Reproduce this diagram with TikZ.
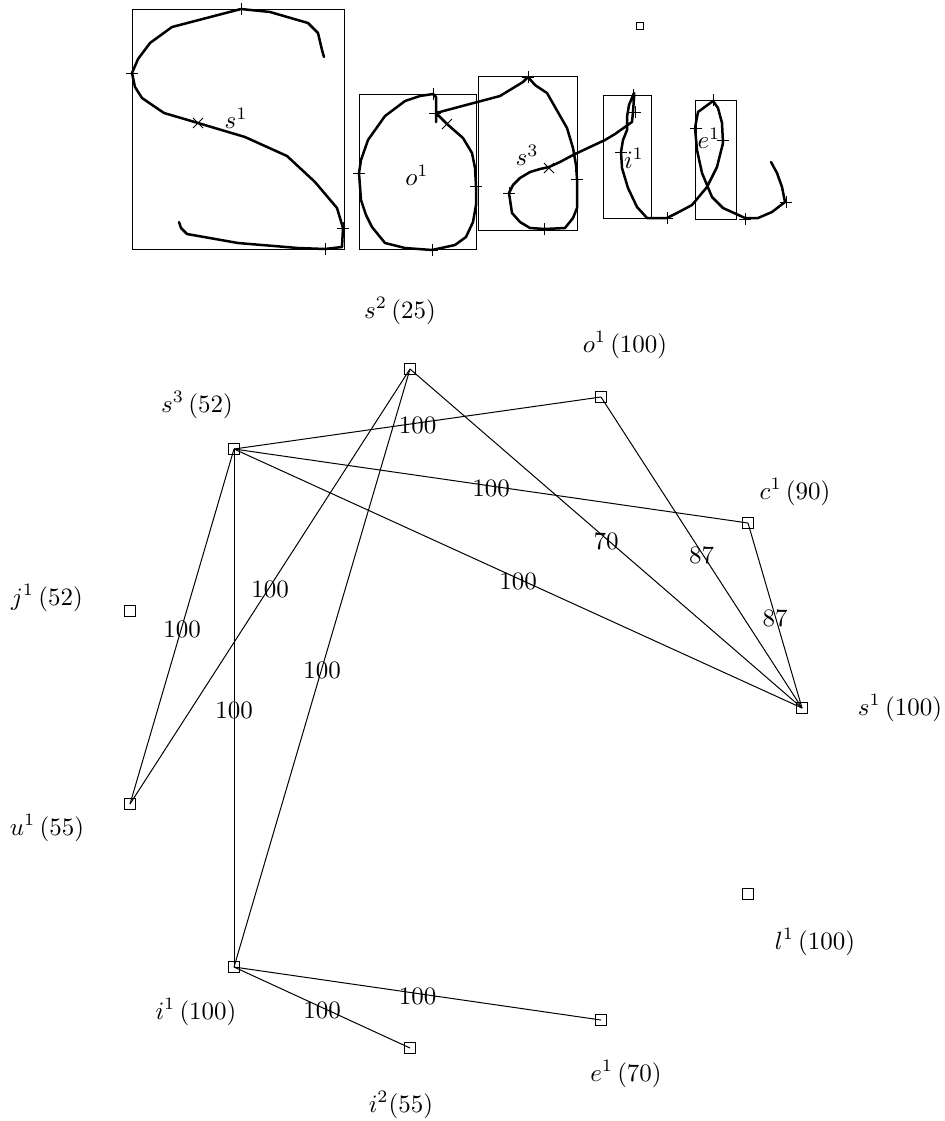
\documentclass[tikz,border=0pt]{standalone}
\begin{document}
\begin{tikzpicture}[x=0.4pt,y=-0.4pt,
  vert/.style={draw,rectangle,minimum size=4.6pt,inner sep=0pt,line width=0.4pt},
  lbl/.style={inner sep=0pt},
  edge/.style={line width=0.4pt},
  wlab/.style={inner sep=0pt},
  pen/.style={line width=1pt,line join=round,line cap=round},
  frame/.style={line width=0.4pt},
  tick/.style={line width=0.4pt}]
\useasboundingbox (0,0) rectangle (945,1121);

% ---------- handwriting ----------
\draw[frame] (132,9) rectangle (344,249);
\draw[frame] (359,94) rectangle (476,249);
\draw[frame] (478,76) rectangle (577,230);
\draw[frame] (603,95) rectangle (651,218);
\draw[frame] (695,100) rectangle (736,219);
\node[draw,rectangle,minimum size=2.6pt,inner sep=0pt,line width=0.4pt] (dot) at (640,26) {};

\draw[pen] (324,57) -- (322,50) -- (318,33) -- (308,23) -- (270,12) -- (241,9) -- (172,27) -- (150,43) -- (138,59) -- (132,73) -- (135,87) -- (142,98) -- (164,113) -- (198,123) -- (245,137) -- (287,156) -- (315,182) -- (337,208) -- (343,228) -- (342,247) -- (325,249) -- (298,248) -- (238,243) -- (187,234) -- (181,228) -- (179,222);

\draw[pen] (436,122) -- (436,113) -- (436,97) -- (433,94) -- (420,96) -- (405,101) -- (385,116) -- (368,140) -- (361,160) -- (359,173) -- (361,200) -- (366,215) -- (372,227) -- (385,243) -- (405,248) -- (432,250) -- (455,245) -- (466,237) -- (473,222) -- (476,205) -- (476,186) -- (475,168) -- (472,153) -- (463,138) -- (447,124) -- (436,113)
  -- (500,96) -- (523,82) -- (528,77) -- (535,85) -- (547,93) -- (555,107) -- (567,128) -- (573,148) -- (576,165) -- (577,179) -- (577,208) -- (573,218) -- (565,228) -- (545,229) -- (530,228) -- (520,222) -- (512,213) -- (509,193) -- (513,185) -- (520,178) -- (530,172) -- (540,169) -- (549,167) -- (560,162) -- (573,155) -- (590,147)
  -- (605,140) -- (615,134) -- (632,122) -- (633,112) -- (634,98) -- (634,93) -- (629,105) -- (627,117) -- (627,130) -- (623,140) -- (621,152) -- (622,168) -- (628,188) -- (637,207) -- (647,218) -- (667,218) -- (677,213) -- (692,205)
  -- (707,187) -- (717,167) -- (723,143) -- (722,123) -- (718,108) -- (713,101) -- (698,112) -- (695,128) -- (697,150) -- (702,173) -- (712,197) -- (723,208) -- (745,218) -- (758,218) -- (772,212) -- (785,202) -- (782,187) -- (777,173) -- (771,162);

% plus ticks
\foreach \x/\y in {241/9,132/73,343/228,325/249,
  433/94,435/113,359/173,476/186,432/250,
  528/77,577/179,509/193,544/229,
  633/95,635/112,621/152,667/218,
  713/100,696/128,723/140,745/219,786/202}
  \draw[tick] (\x-6,\y) -- (\x+6,\y) (\x,\y-6) -- (\x,\y+6);
% cross ticks
\foreach \x/\y in {198/123,447/124,549/168}
  \draw[tick] (\x-5,\y-5) -- (\x+5,\y+5) (\x-5,\y+5) -- (\x+5,\y-5);

\node[wlab] (ws1) at (236,118) {$s^1$};
\node[wlab] (wo1) at (417,175) {$o^1$};
\node[wlab] (ws3) at (527,155) {$s^3$};
\node[wlab] (wi1) at (634,158) {$i^1$};
\node[wlab] (we1) at (709,138) {$e^1$};

% ---------- graph ----------
\node[vert] (s2) at (410,369) {};
\node[vert] (o1) at (601,397) {};
\node[vert] (s3) at (234,449) {};
\node[vert] (c1) at (748,523) {};
\node[vert] (j1) at (130,611) {};
\node[vert] (s1) at (802,708) {};
\node[vert] (u1) at (130,804) {};
\node[vert] (l1) at (748,894) {};
\node[vert] (i1) at (234,967) {};
\node[vert] (i2) at (410,1048) {};
\node[vert] (e1) at (601,1020) {};

\node[lbl] (ls2) at (400,311) {$s^2\,(25)$};
\node[lbl] (lo1) at (625,345) {$o^1\,(100)$};
\node[lbl] (ls3) at (197,405) {$s^3\,(52)$};
\node[lbl] (lc1) at (795,492) {$c^1\,(90)$};
\node[lbl] (lj1) at (47,598) {$j^1\,(52)$};
\node[lbl] (ls1) at (900,708) {$s^1\,(100)$};
\node[lbl] (lu1) at (47,828) {$u^1\,(55)$};
\node[lbl] (ll1) at (815,942) {$l^1\,(100)$};
\node[lbl] (li1) at (196,1012) {$i^1\,(100)$};
\node[lbl] (li2) at (401,1105) {$i^2(55)$};
\node[lbl] (le1) at (626,1074) {$e^1\,(70)$};

\foreach \a/\b/\w in {s3/o1/100, s3/c1/100, s3/s1/100, s2/s1/70, o1/s1/87, c1/s1/87,
  s2/u1/100, s3/u1/100, s3/i1/100, s2/i1/100, i1/e1/100, i1/i2/100}
  \draw[edge] (\a.center) -- node[wlab,yshift=-1pt] {\w} (\b.center);
\end{tikzpicture}
\end{document}
